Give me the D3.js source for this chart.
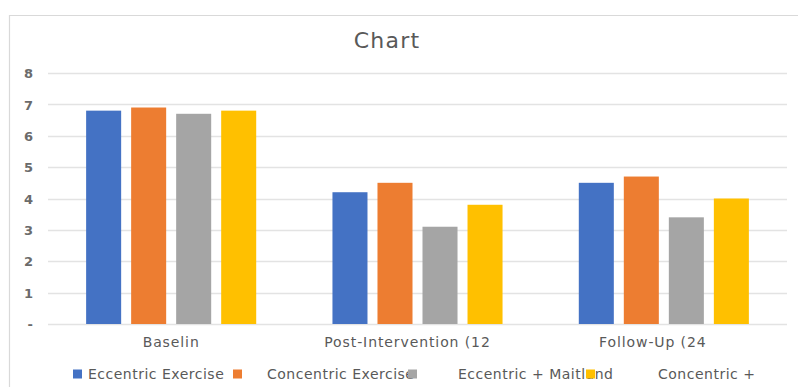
<!DOCTYPE html>
<html>
<head>
<meta charset="utf-8">
<script src="https://cdn.jsdelivr.net/npm/d3@7"></script>
<style>
  html, body { margin: 0; padding: 0; background: #fff; }
  svg { display: block; }
  text { font-family: "DejaVu Sans", sans-serif; fill: #595959; }
</style>
</head>
<body>
<svg id="chart" width="798" height="387"></svg>
<script>
// Chart data
const categories = ["Baselin", "Post-Intervention (12", "Follow-Up (24"];
const seriesNames = ["Eccentric Exercise", "Concentric Exercise", "Eccentric + Maitland", "Concentric +"];
const eccentricExercise = [6.8, 4.2, 4.5];
const concentricExercise = [6.9, 4.5, 4.7];
const eccentricMaitland = [6.7, 3.1, 3.4];
const concentricMaitland = [6.8, 3.8, 4.0];
const yTicks = [0, 1, 2, 3, 4, 5, 6, 7, 8];
const colors = ["#4472C4", "#ED7D31", "#A5A5A5", "#FFC000"];

const seriesValues = [eccentricExercise, concentricExercise, eccentricMaitland, concentricMaitland];

const svg = d3.select("#chart");

// Chart-area frame
svg.append("path")
  .attr("d", "M9.5,387 V15.5 H798")
  .attr("fill", "none")
  .attr("stroke", "#d9d9d9")
  .attr("stroke-width", 1.2);

// Title
svg.append("text")
  .attr("x", 387)
  .attr("y", 48)
  .attr("text-anchor", "middle")
  .style("font-size", "22px")
  .style("letter-spacing", "1.2px")
  .text("Chart");

const plot = { left: 48, right: 787, top: 73, bottom: 324 };

const y = d3.scaleLinear().domain([0, 8]).range([plot.bottom, plot.top]);

const x0 = d3.scaleBand()
  .domain(categories)
  .range([plot.left, plot.right])
  .paddingInner(0.269)
  .paddingOuter(0.1345);

const x1 = d3.scaleBand()
  .domain(d3.range(seriesNames.length))
  .range([0, x0.bandwidth()])
  .paddingInner(0.222)
  .paddingOuter(0.111);

// Gridlines
svg.append("g")
  .selectAll("line")
  .data(yTicks)
  .join("line")
  .attr("x1", plot.left)
  .attr("x2", plot.right)
  .attr("y1", d => Math.round(y(d)) + 0.5)
  .attr("y2", d => Math.round(y(d)) + 0.5)
  .attr("stroke", "#e3e3e3")
  .attr("stroke-width", 1.4);

// Value axis labels (zero shown as a dash)
const yAxis = d3.axisLeft(y)
  .tickValues(yTicks)
  .tickSize(0)
  .tickPadding(0)
  .tickFormat(d => d === 0 ? "-" : d3.format("d")(d));

const yg = svg.append("g")
  .attr("transform", "translate(33,0)")
  .call(yAxis);
yg.select(".domain").remove();
yg.selectAll("text")
  .attr("dy", "0.36em")
  .style("font-size", "13px")
  .style("font-weight", "bold")
  .style("fill", "#6b6b6b");

// Bars
const groups = svg.append("g")
  .selectAll("g")
  .data(categories)
  .join("g")
  .attr("transform", d => `translate(${x0(d)},0)`);

groups.selectAll("rect")
  .data((d, ci) => seriesValues.map((vals, si) => ({ si, v: vals[ci] })))
  .join("rect")
  .attr("x", d => x1(d.si))
  .attr("width", x1.bandwidth())
  .attr("y", d => y(d.v))
  .attr("height", d => y(0) - y(d.v))
  .attr("fill", d => colors[d.si]);

// Category labels (long labels are wrapped, only their first line shows)
const labelShift = [0, -10, -11];
svg.append("g")
  .selectAll("text")
  .data(categories)
  .join("text")
  .attr("x", (d, i) => x0(d) + x0.bandwidth() / 2 + labelShift[i])
  .attr("y", 347)
  .attr("text-anchor", "middle")
  .style("font-size", "14px")
  .style("letter-spacing", "0.9px")
  .text(d => d);

// Legend
const legendTextX = [88, 267, 458, 658];
const legendKeyX = [73, 233, 408, 586];
const legend = svg.append("g");
legend.selectAll("text")
  .data(seriesNames)
  .join("text")
  .attr("x", (d, i) => legendTextX[i])
  .attr("y", 379)
  .style("font-size", "14px")
  .style("letter-spacing", "0.5px")
  .text(d => d);
legend.selectAll("rect")
  .data(seriesNames)
  .join("rect")
  .attr("x", (d, i) => legendKeyX[i])
  .attr("y", 369.5)
  .attr("width", 9)
  .attr("height", 9)
  .attr("fill", (d, i) => colors[i]);
</script>
</body>
</html>
